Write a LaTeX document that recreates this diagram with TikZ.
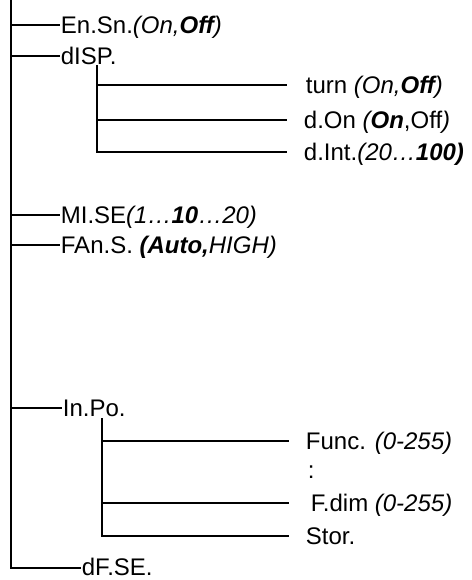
\documentclass[tikz,border=0pt]{standalone}
\usepackage{fontspec}
\setmainfont{Liberation Sans}
\begin{document}
\begin{tikzpicture}[x=1pt,y=-1pt,line width=1.8pt,
  lbl/.style={anchor=base west,inner sep=0pt,font=\fontsize{24}{28}\selectfont}]
\useasboundingbox (0,0) rectangle (471,580);
% main trunk
\coordinate (top) at (11,0);
\coordinate (b1) at (11,25);
\coordinate (b2) at (11,56);
\coordinate (b3) at (11,215);
\coordinate (b4) at (11,245);
\coordinate (b5) at (11,408);
\coordinate (b6) at (11,568);
% labels of main branches
\node[lbl] (ensn) at (60,33.6) {En.Sn.\textit{(On,\textbf{Off})}};
\node[lbl] (disp) at (60,64.6) {dISP.};
\node[lbl] (mise) at (60,223.6) {MI.SE\textit{(1…\textbf{10}…20)}};
\node[lbl] (fans) at (60,253.6) {FAn.S. \textit{\textbf{(Auto,}HIGH)}};
\node[lbl] (inpo) at (62,416.6) {In.Po.};
\node[lbl] (dfse) at (81,575) {dF.SE.};
% display sub-menu
\coordinate (dtop) at (97,65);
\coordinate (d1) at (97,85);
\coordinate (d2) at (97,120);
\coordinate (d3) at (97,152);
\coordinate (dend) at (287,0);
\node[lbl] (turn) at (305,93.6) {turn \textit{(On,\textbf{Off})}};
\node[lbl] (don) at (303,128.6) {d.On \textit{(\textbf{On}}{,Off}\textit{)}};
\node[lbl] (dint) at (303,160.6) {d.Int.\textit{(20…\textbf{100)}}};
% input sub-menu
\coordinate (itop) at (102,418);
\coordinate (i1) at (102,441);
\coordinate (i2) at (102,503);
\coordinate (i3) at (102,536);
\coordinate (iend) at (289,0);
\node[lbl] (func) at (305,449.6) {Func. \textit{(0-255)}};
\node[lbl] (dots) at (307,478) {:};
\node[lbl] (fdim) at (310,511.6) {F.dim \textit{(0-255)}};
\node[lbl] (stor) at (305,544.6) {Stor.};
% connectors
\draw (top) -- (b6) -- (b6 -| dfse.west);
\draw (b1) -- (b1 -| ensn.west);
\draw (b2) -- (b2 -| disp.west);
\draw (b3) -- (b3 -| mise.west);
\draw (b4) -- (b4 -| fans.west);
\draw (b5) -- (b5 -| inpo.west);
\draw (dtop) -- (d3) -- (d3 -| dend);
\draw (d1) -- (d1 -| dend);
\draw (d2) -- (d2 -| dend);
\draw (itop) -- (i3) -- (i3 -| iend);
\draw (i1) -- (i1 -| iend);
\draw (i2) -- (i2 -| iend);
\end{tikzpicture}
\end{document}
